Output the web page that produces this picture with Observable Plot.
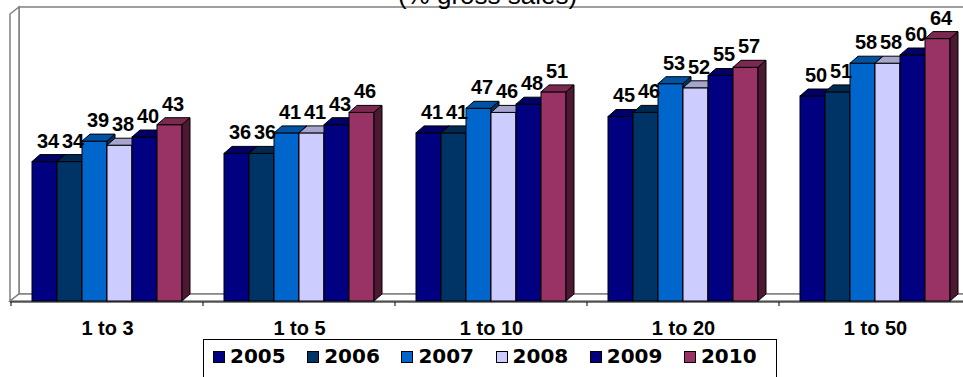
<!DOCTYPE html>
<html>
<head>
<meta charset="utf-8">
<script src="https://cdn.jsdelivr.net/npm/d3@7"></script>
<script src="https://cdn.jsdelivr.net/npm/@observablehq/plot@0.6"></script>
<style>
html, body { margin: 0; padding: 0; background: #fff; overflow: hidden; }
#wrap { position: relative; width: 963px; height: 377px; overflow: hidden; }
#chart { position: absolute; left: 0; top: 0; }
#chart svg text { font-family: "Liberation Sans", Arial, sans-serif; }
#title { position: absolute; left: 0; top: -18px; width: 975px; text-align: center;
  font: 26px/26px "Liberation Sans", Arial, sans-serif; color: #000; z-index: 2; }
#legend { position: absolute; left: 203px; top: 339px; width: 574px; height: 60px;
  box-sizing: border-box; border: 1.5px solid #000; background: #fff;
  padding: 4px 0 0 9px; display: flex;
  font: bold 20px/24px "DejaVu Sans", sans-serif; color: #000; }
#legend .item { width: 94.2px; white-space: nowrap; flex: none; }
#legend .sw { display: inline-block; width: 10px; height: 10px; border: 1px solid #000;
  margin-right: 5px; vertical-align: baseline; }
</style>
</head>
<body>
<div id="wrap">
  <div id="chart"></div>
  <div id="title">(% gross sales)</div>
  <div id="legend"></div>
</div>
<script>
// ---- data ----
const groups = ["1 to 3", "1 to 5", "1 to 10", "1 to 20", "1 to 50"];
const years = ["2005", "2006", "2007", "2008", "2009", "2010"];
const colors = ["#000080", "#003366", "#0066CC", "#CCCCFF", "#000080", "#993366"];
const v2005 = [34, 36, 41, 45, 50];
const v2006 = [34, 36, 41, 46, 51];
const v2007 = [39, 41, 47, 53, 58];
const v2008 = [38, 41, 46, 52, 58];
const v2009 = [40, 43, 48, 55, 60];
const v2010 = [43, 46, 51, 57, 64];
const seriesValues = [v2005, v2006, v2007, v2008, v2009, v2010];
const yMax = 70;

const data = groups.flatMap((g, gi) =>
  years.map((yr, yi) => ({group: g, year: yr, value: seriesValues[yi][gi]})));

// ---- 3D look ----
const DX = 8, DY = -7;
const ML = 10;
const pts = a => a.map(p => p.join(",")).join(" ");

function walls(index, scales) {
  const {fx, y} = scales;
  const tx = fx(groups[0]) - ML;            // facet translation of first facet
  const xL = fx(groups[0]) - tx;
  const xR = fx(groups[groups.length - 1]) + fx.bandwidth() - tx + 20;
  const yT = y(yMax), yB = y(0);
  const g = d3.create("svg:g");
  g.append("rect").attr("x", xL + DX).attr("y", yT + DY)
    .attr("width", xR - xL).attr("height", yB - yT)
    .attr("fill", "#fff").attr("stroke", "#808080").attr("stroke-width", 1.5);
  g.append("polygon").attr("points", pts([[xL - 1, yT], [xL + DX, yT + DY], [xL + DX, yB + DY], [xL - 1, yB]]))
    .attr("fill", "#fff").attr("stroke", "#808080").attr("stroke-width", 1.5);
  g.append("polygon").attr("points", pts([[xL - 1, yB], [xL + DX, yB + DY], [xR + DX, yB + DY], [xR, yB]]))
    .attr("fill", "#fff").attr("stroke", "#808080").attr("stroke-width", 1.5);
  g.append("line").attr("x1", xL - 1).attr("x2", xR).attr("y1", yB + 1).attr("y2", yB + 1)
    .attr("stroke", "#000").attr("stroke-width", 1.2);
  const bounds = groups.map(d => fx(d)).concat([fx(groups[groups.length - 1]) + fx.bandwidth()]);
  for (const b of bounds) {
    g.append("line").attr("x1", b - tx).attr("x2", b - tx).attr("y1", yB + 1).attr("y2", yB + 5)
      .attr("stroke", "#000").attr("stroke-width", 1);
  }
  return g.node();
}

function bars3d(index, scales) {
  const {x, y, color} = scales;
  const bw = x.bandwidth();
  const y0 = y(0);
  const g = d3.create("svg:g");
  for (const i of index) {
    const d = data[i];
    const x0 = x(d.year), x1 = x0 + bw, yt = y(d.value);
    const c = d3.color(color(d.year));
    g.append("rect").attr("x", x0).attr("y", yt).attr("width", bw).attr("height", y0 - yt)
      .attr("fill", c.formatHex()).attr("stroke", "#000").attr("stroke-width", 1);
    g.append("polygon").attr("points", pts([[x0, yt], [x0 + DX, yt + DY], [x1 + DX, yt + DY], [x1, yt]]))
      .attr("fill", c.darker(0.6).formatHex()).attr("stroke", "#000").attr("stroke-width", 1);
    g.append("polygon").attr("points", pts([[x1, yt], [x1 + DX, yt + DY], [x1 + DX, y0 + DY], [x1, y0]]))
      .attr("fill", c.darker(2).formatHex()).attr("stroke", "#000").attr("stroke-width", 1);
  }
  return g.node();
}

const chart = Plot.plot({
  width: 963,
  height: 339,
  marginLeft: ML,
  marginRight: -9.5,
  marginTop: 14,
  marginBottom: 38,
  style: {fontFamily: "Liberation Sans", background: "transparent", overflow: "visible"},
  fx: {domain: groups, padding: 0, label: null},
  x: {domain: years, paddingInner: 0, paddingOuter: 0.8, axis: null},
  y: {domain: [0, yMax], axis: null},
  color: {domain: years, range: colors},
  marks: [
    Plot.rect([{group: groups[0]}], {fx: "group", render: walls}),
    Plot.barY(data, {fx: "group", x: "year", y1: 0, y2: "value", fill: "year", render: bars3d}),
    Plot.text(data, {fx: "group", x: "year", y: "value", text: d => String(d.value),
      dx: 3, dy: -21, fontSize: 20, fontWeight: "bold", fontFamily: "Liberation Sans", fill: "#000"}),
    Plot.axisFx({anchor: "bottom", tickSize: 0, tickPadding: 19, fontSize: 20,
      fontWeight: "bold", fontFamily: "Liberation Sans", label: null, fill: "#000"})
  ]
});
document.getElementById("chart").appendChild(chart);

// legend
const legend = d3.select("#legend");
years.forEach((yr, i) => {
  const it = legend.append("div").attr("class", "item");
  it.append("span").attr("class", "sw").style("background", colors[i]);
  it.append("span").text(yr);
});
</script>
</body>
</html>
